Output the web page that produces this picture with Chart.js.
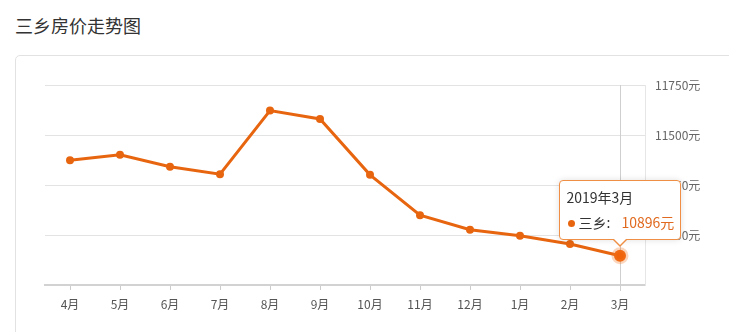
<!DOCTYPE html>
<html>
<head>
<meta charset="utf-8">
<script src="https://cdn.jsdelivr.net/npm/chart.js@4/dist/chart.umd.min.js"></script>
<style>
    body { margin: 0; background: #fff; font-family: "Noto Sans CJK SC", "Noto Sans", sans-serif; }
    .title { position: absolute; left: 15px; top: 12px; font-size: 18px; color: #333; }
    .card { position: absolute; left: 15px; top: 55px; width: 740px; height: 320px; border: 1px solid #e2e2e2; border-radius: 5px; box-sizing: border-box; }
    .wrap { position: absolute; left: 0; top: 0; width: 729px; height: 332px; }
    #tip { position: absolute; background: #fff; border: 1px solid #ef8f45; border-radius: 4px; padding: 6px 6px 7px 7px; font-size: 14px; line-height: 20px; color: #333; box-shadow: 0 0 6px rgba(0, 0, 0, 0.12); white-space: nowrap; display: none; }
    #tip .row { margin-top: 5px; }
    #tip .dot { display: inline-block; width: 7px; height: 7px; border-radius: 50%; background: #e8650f; margin: 0 4px 1px 1px; }
    #tip .val { color: #e06a1f; margin-left: 11px; }
    #tip::before, #tip::after { content: ''; position: absolute; left: 50%; border-style: solid; border-color: transparent; }
    #tip::before { bottom: -8px; margin-left: -8px; border-width: 8px 8px 0 8px; border-top-color: #ef8f45; }
    #tip::after { bottom: -6px; margin-left: -7px; border-width: 7px 7px 0 7px; border-top-color: #fff; }
</style>
</head>
<body>
<div class="title">三乡房价走势图</div>
<div class="card"></div>
<div class="wrap">
    <canvas id="priceChart" width="729" height="332"></canvas>
    <div id="tip"></div>
</div>
<script>
const months = ['4月', '5月', '6月', '7月', '8月', '9月', '10月', '11月', '12月', '1月', '2月', '3月'];
const periods = ['2018年4月', '2018年5月', '2018年6月', '2018年7月', '2018年8月', '2018年9月',
    '2018年10月', '2018年11月', '2018年12月', '2019年1月', '2019年2月', '2019年3月'];
const prices = [11374, 11401, 11341, 11304, 11622, 11580, 11301, 11099, 11026, 10996, 10955, 10896];
const seriesName = '三乡';
const yMin = 10750;
const yMax = 11750;
const yStep = 250;

const orange = '#e8650f';

function renderTip(context) {
    const tip = document.getElementById('tip');
    const model = context.tooltip;
    if (!model || model.opacity === 0 || !model.dataPoints?.length) {
        tip.style.display = 'none';

        return;
    }
    const point = model.dataPoints[0];
    tip.innerHTML = `<div>${periods[point.dataIndex]}</div>`
        + `<div class="row"><span class="dot"></span>${seriesName}:<span class="val">${point.raw}元</span></div>`;
    tip.style.display = 'block';
    tip.style.left = (model.caretX - tip.offsetWidth / 2) + 'px';
    tip.style.top = (model.caretY - tip.offsetHeight - 16) + 'px';
}

const crosshair = {
    id: 'crosshair',
    beforeDatasetsDraw(chart) {
        const active = chart.getActiveElements();
        if (!active.length) {
            return;
        }
        const { ctx, chartArea } = chart;
        const x = Math.round(active[0].element.x) + 0.5;
        ctx.save();
        ctx.strokeStyle = '#cfcfcf';
        ctx.lineWidth = 1;
        ctx.beginPath();
        ctx.moveTo(x, chartArea.top);
        ctx.lineTo(x, chartArea.bottom + 6);
        ctx.stroke();
        ctx.restore();
    },
};

Chart.defaults.font.family = '"Noto Sans CJK SC", "Noto Sans", sans-serif';

const chart = new Chart(document.getElementById('priceChart'), {
    type: 'line',
    data: {
        labels: months,
        datasets: [{
            label: seriesName,
            data: prices,
            borderColor: orange,
            backgroundColor: orange,
            borderWidth: 3,
            tension: 0,
            pointRadius: 4,
            pointBorderWidth: 0,
            pointBackgroundColor: orange,
            pointHoverRadius: 6,
            pointHoverBackgroundColor: '#f0650c',
            pointHoverBorderColor: 'rgba(243, 120, 40, 0.3)',
            pointHoverBorderWidth: 5,
        }],
    },
    options: {
        responsive: false,
        animation: false,
        events: [],
        layout: { padding: { left: 45, top: 85, right: 0, bottom: 0 } },
        plugins: {
            legend: { display: false },
            tooltip: { enabled: false, external: renderTip },
        },
        scales: {
            x: {
                offset: true,
                grid: { display: true, drawOnChartArea: false, offset: false, tickLength: 5, color: '#cccccc' },
                border: { display: true, color: '#d2d2d2', width: 2 },
                ticks: { color: '#555', font: { size: 12 }, padding: 7, maxRotation: 0, autoSkip: false },
                afterFit: (scale) => { scale.height = 47; },
            },
            y: {
                position: 'right',
                min: yMin,
                max: yMax,
                ticks: {
                    stepSize: yStep,
                    color: '#666',
                    font: { size: 12 },
                    padding: 10,
                    callback: (v) => (v === yMin ? '' : v + '元'),
                },
                grid: { color: '#e3e3e3', drawTicks: false },
                border: { display: true, color: '#e6e6e6' },
                afterFit: (scale) => { scale.width = 84; },
            },
        },
    },
    plugins: [crosshair],
});

const last = prices.length - 1;
const meta = chart.getDatasetMeta(0).data[last];
chart.setActiveElements([{ datasetIndex: 0, index: last }]);
chart.tooltip.setActiveElements([{ datasetIndex: 0, index: last }], { x: meta.x, y: meta.y });
chart.update();
</script>
</body>
</html>
